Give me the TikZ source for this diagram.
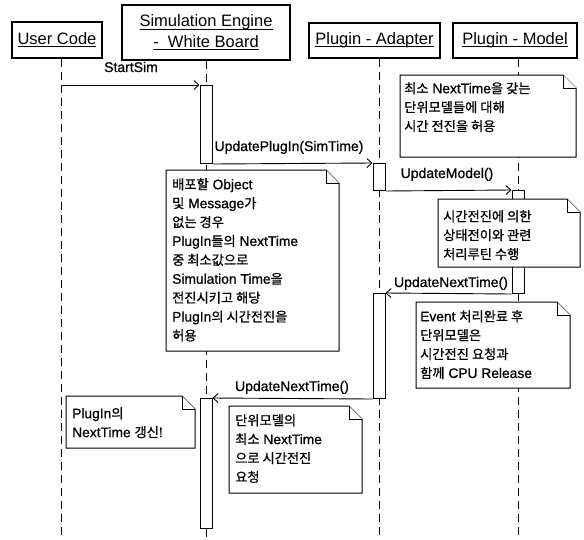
\documentclass[tikz,border=0pt]{standalone}
\usepackage{fontspec}
\setmainfont{Liberation Sans}
\newfontfamily\semib{Liberation Sans}[FakeBold=0.8]
\newfontfamily\kr{Noto Sans CJK KR}[Scale=0.96,FakeBold=0.8]
\usetikzlibrary{arrows.meta,calc}

% underlined header text with a fixed rule depth
\newcommand\hdrul[1]{\setbox0\hbox{#1}\rlap{\rule[-2.6pt]{\wd0}{0.9pt}}\box0}

% note outline with a folded top-right corner
\newcommand\foldnote[4]{%
  \filldraw[notefrm] (#1,#2) -- (#3-13,#2) -- (#3,#2+13) -- (#3,#4) -- (#1,#4) -- cycle;
  \draw[notefrm] (#3-13,#2) -- (#3-13,#2+13) -- (#3,#2+13);
}

\tikzset{
  head/.style={draw, line width=1.1pt, fill=white, inner sep=0pt, align=center,
    font=\fontsize{16.5}{20.5}\selectfont},
  actbar/.style={draw, fill=white, line width=1pt, minimum width=12pt, inner sep=0pt},
  life/.style={line width=1pt, dash pattern=on 8pt off 5pt},
  msg/.style={line width=0.9pt, -{Straight Barb[length=5pt,width=9pt]}},
  lbl/.style={font=\fontsize{14}{16}\semib, inner sep=0pt, anchor=base},
  notefrm/.style={line width=1pt, fill=white},
  ntxt/.style={font=\fontsize{13.8}{18.9}\semib, align=left, inner sep=0pt, anchor=north west},
}

\begin{document}
\begin{tikzpicture}[x=1pt,y=-1pt]
\useasboundingbox[fill=white] (0,0) rectangle (584,539);

% participants
\node[head, minimum width=90pt, minimum height=36pt] (uc) at (57,40) {\hdrul{User Code}};
\node[head, minimum width=168pt, minimum height=55pt] (se) at (206,32.5)
  {\hdrul{Simulation Engine}\\\hdrul{-\ \ White Board}};
\node[head, minimum width=131pt, minimum height=35pt] (ad) at (374.5,40.5) {\hdrul{Plugin - Adapter}};
\node[head, minimum width=124pt, minimum height=35pt] (md) at (515,40.5) {\hdrul{Plugin - Model}};

% lifelines
\coordinate (ucx) at (61,539);
\coordinate (sex) at (206,539);
\coordinate (adx) at (379,539);
\coordinate (mdx) at (518,539);
\draw[life] (uc.south -| ucx) -- (ucx);
\draw[life] (se.south -| sex) -- (sex);
\draw[life] (ad.south -| adx) -- (adx);
\draw[life] (md.south -| mdx) -- (mdx);

% activation bars
\node[actbar, minimum height=78pt, anchor=north] (b1) at (206,85) {};
\node[actbar, minimum height=27pt, anchor=north] (b2) at (379,163) {};
\node[actbar, minimum height=103pt, anchor=north] (b3) at (518,190) {};
\node[actbar, minimum height=105pt, anchor=north] (b4) at (379,293) {};
\node[actbar, minimum height=130pt, anchor=north] (b5) at (206,398) {};

% messages
\draw[msg] (b1.north west -| ucx) -- (b1.north west);
\draw[msg] (b1.south east) -- (b2.north west);
\draw[msg] (b2.south east) -- (b3.north west);
\draw[msg] (b3.south west) -- (b4.north east);
\draw[msg] (b4.south west) -- (b5.north east);

\node[lbl] (l1) at (131,72) {StartSim};
\node[lbl] (l2) at (289,151) {UpdatePlugIn(SimTime)};
\node[lbl] (l3) at (447,178) {UpdateModel()};
\node[lbl] (l4) at (451,287) {UpdateNextTime()};
\node[lbl] (l5) at (292,391) {UpdateNextTime()};

% notes
\foldnote{400}{75}{576}{157}
\node[ntxt] (n1) at (404,79.8)
  {\strut{\kr 최소} NextTime{\kr 을 갖는}\\{\kr 단위모델들에 대해}\\{\kr 시간 전진을 허용}};

\foldnote{166}{170}{339}{351}
\node[ntxt] (n2) at (172,175.8)
  {\strut{\kr 배포할} Object\\{\kr 및} Message{\kr 가}\\{\kr 없는 경우}\\PlugIn{\kr 들의} NextTime\\
   {\kr 중 최소값으로}\\Simulation Time{\kr 을}\\{\kr 전진시키고 해당}\\PlugIn{\kr 의 시간전진을}\\{\kr 허용}};

\foldnote{438}{199}{580}{267}
\node[ntxt] (n3) at (443,207.8)
  {\strut{\kr 시간전진에 의한}\\{\kr 상태전이와 관련}\\{\kr 처리루틴 수행}};

\foldnote{416}{302}{570}{388}
\node[ntxt] (n4) at (420,307.8)
  {\strut Event {\kr 처리완료 후}\\{\kr 단위모델은}\\{\kr 시간전진 요청과}\\{\kr 함께} CPU Release};

\foldnote{66}{396}{195}{448}
\node[ntxt] (n5) at (72,404.8)
  {\strut PlugIn{\kr 의}\\NextTime {\kr 갱신}!};

\foldnote{229}{406}{362}{493}
\node[ntxt] (n6) at (235,411.8)
  {\strut{\kr 단위모델의}\\{\kr 최소} NextTime\\{\kr 으로 시간전진}\\{\kr 요청}};
\end{tikzpicture}
\end{document}
